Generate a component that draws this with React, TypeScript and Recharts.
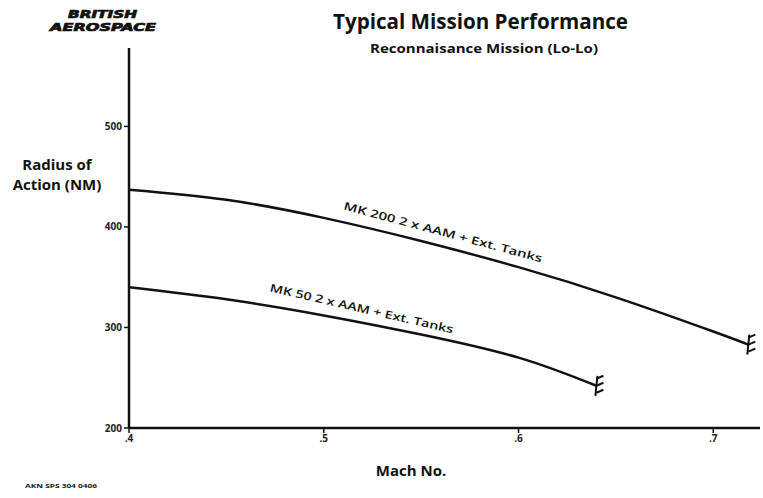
import { LineChart, Line, XAxis, YAxis } from 'recharts'

const MACH_TICKS = [0.4, 0.5, 0.6, 0.7]
const RADIUS_TICKS = [200, 300, 400, 500]

const MK200_MACH = [0.4, 0.45, 0.5, 0.55, 0.6, 0.65, 0.7, 0.718]
const MK200_RADIUS = [437, 427, 409, 386, 360, 330, 296, 283]

const MK50_MACH = [0.4, 0.45, 0.5, 0.55, 0.6, 0.64]
const MK50_RADIUS = [340, 328, 312, 293, 270, 242]

const MK200_LABEL = 'MK 200  2 x AAM + Ext. Tanks'
const MK50_LABEL = 'MK 50  2 x AAM + Ext. Tanks'

const FONT = '"Open Sans", "Noto Sans", sans-serif'

const mk200 = MK200_MACH.map((m, i) => ({ mach: m, radius: MK200_RADIUS[i] }))
const mk50 = MK50_MACH.map((m, i) => ({ mach: m, radius: MK50_RADIUS[i] }))

// end-of-curve "feather" mark plus the rotated series label
function makeDot(last: number, labelIdx: number, label: string, dx: number, dy: number, angle: number, len: number) {
  return (props: any) => {
    const { cx, cy, index } = props
    if (index === last) {
      return (
        <g key={`d${index}`} stroke="#111" strokeWidth={2} fill="none">
          <line x1={cx + 1} y1={cy - 10} x2={cx - 1} y2={cy + 10} />
          <line x1={cx} y1={cy - 7} x2={cx + 7} y2={cy - 10} />
          <line x1={cx} y1={cy} x2={cx + 7} y2={cy - 3} />
          <line x1={cx} y1={cy + 7} x2={cx + 7} y2={cy + 4} />
        </g>
      )
    }
    if (index === labelIdx) {
      return (
        <g key={`d${index}`} transform={`translate(${cx + dx},${cy + dy}) rotate(${angle})`}>
          <text
            x={0}
            y={4}
            textAnchor="middle"
            fontFamily={FONT}
            fontSize={11}
            fontWeight={600}
            fill="#111"
            textLength={len}
            lengthAdjust="spacingAndGlyphs"
          >
            {label}
          </text>
        </g>
      )
    }
    return <g key={`d${index}`} />
  }
}

const tickStyle = { fill: '#222', fontSize: 10, fontWeight: 700, fontFamily: FONT }

export default function App() {
  return (
    <div style={{ position: 'absolute', left: 0, top: 0, width: 763, height: 498, background: '#fff' }}>
      <LineChart width={763} height={498} margin={{ top: 48, right: 3, bottom: 0, left: 0 }}>
        <XAxis
          type="number"
          dataKey="mach"
          domain={[0.4, 0.724]}
          ticks={MACH_TICKS}
          allowDataOverflow
          height={70}
          tickSize={5}
          tickFormatter={(v) => '.' + Math.round(v * 10)}
          tick={tickStyle}
          axisLine={{ stroke: '#111', strokeWidth: 2.5 }}
          tickLine={{ stroke: '#111', strokeWidth: 1.5 }}
        />
        <YAxis
          type="number"
          dataKey="radius"
          domain={[200, 578]}
          ticks={RADIUS_TICKS}
          allowDataOverflow
          width={129}
          tickSize={5}
          tick={tickStyle}
          axisLine={{ stroke: '#111', strokeWidth: 2.5 }}
          tickLine={{ stroke: '#111', strokeWidth: 1.5 }}
        />
        <Line
          data={mk200}
          dataKey="radius"
          type="natural"
          stroke="#111"
          strokeWidth={2.5}
          dot={makeDot(mk200.length - 1, 3, MK200_LABEL, 22, -9, 15, 205)}
          activeDot={false}
          isAnimationActive={false}
        />
        <Line
          data={mk50}
          dataKey="radius"
          type="natural"
          stroke="#111"
          strokeWidth={2.5}
          dot={makeDot(mk50.length - 1, 2, MK50_LABEL, 38, -7, 13, 188)}
          activeDot={false}
          isAnimationActive={false}
        />
      </LineChart>
      <svg width={763} height={498} style={{ position: 'absolute', left: 0, top: 0, pointerEvents: 'none' }}>
        <g fontFamily='"DejaVu Sans", sans-serif' fontWeight={900} fontStyle="italic" fill="#111" stroke="#111" strokeWidth={0.7}>
          <text x={68} y={18} fontSize={10} textLength={69} lengthAdjust="spacingAndGlyphs">BRITISH</text>
          <text x={50} y={31} fontSize={10} textLength={106} lengthAdjust="spacingAndGlyphs">AEROSPACE</text>
        </g>
        <g fontFamily={FONT} fontWeight={700} fill="#111">
          <text x={333} y={29} fontSize={21} textLength={295} lengthAdjust="spacingAndGlyphs">Typical Mission Performance</text>
          <text x={370} y={53} fontSize={13} textLength={228} lengthAdjust="spacingAndGlyphs">Reconnaisance Mission (Lo-Lo)</text>
          <text x={57} y={170} fontSize={15} textAnchor="middle">Radius of</text>
          <text x={57} y={190} fontSize={15} textAnchor="middle">Action (NM)</text>
          <text x={411} y={476} fontSize={15} textAnchor="middle">Mach No.</text>
          <text x={25} y={488} fontSize={5.5} textLength={72} lengthAdjust="spacingAndGlyphs">AKN SPS 304 0406</text>
        </g>
      </svg>
    </div>
  )
}
